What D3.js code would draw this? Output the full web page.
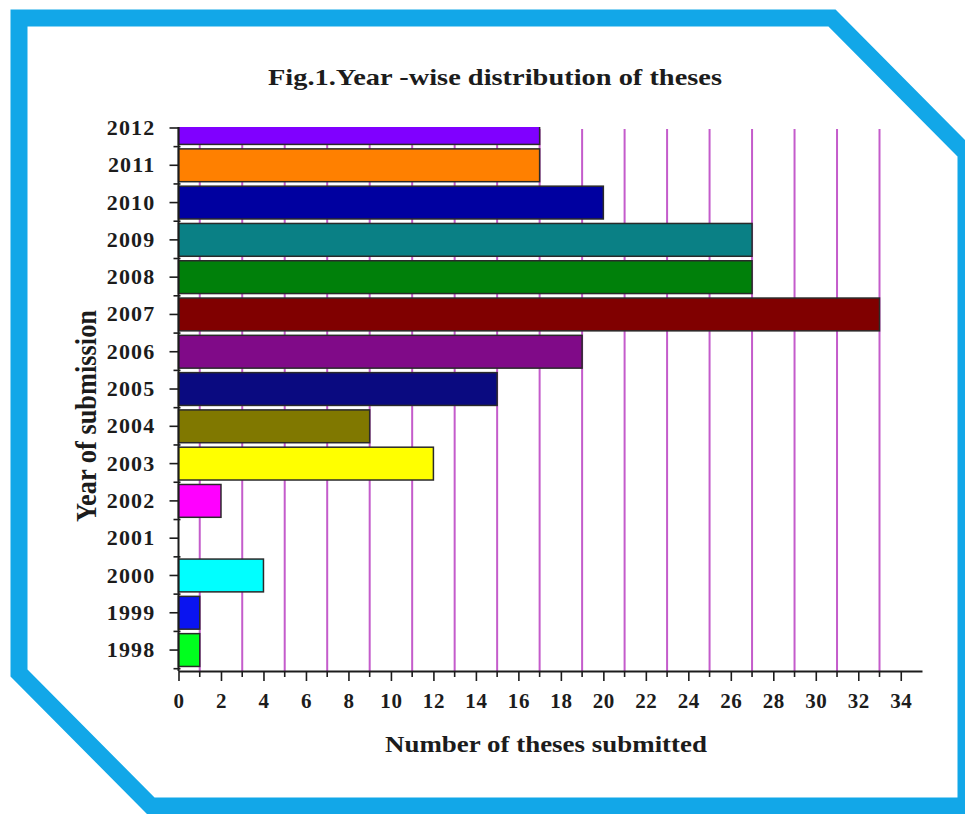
<!DOCTYPE html>
<html>
<head>
<meta charset="utf-8">
<script src="https://cdn.jsdelivr.net/npm/d3@7/dist/d3.min.js"></script>
<style>
  html, body { margin: 0; padding: 0; background: #ffffff; }
  svg { display: block; }
  text { font-family: "Liberation Serif", "Times New Roman", serif; font-weight: bold; fill: #1c1c1c; }
</style>
</head>
<body>
<svg id="chart" width="965" height="814"></svg>
<script>
// Year of submission (bottom to top) and number of theses submitted per year
const years = ["1998", "1999", "2000", "2001", "2002", "2003", "2004", "2005",
               "2006", "2007", "2008", "2009", "2010", "2011", "2012"];
const theses = [1, 1, 4, 0, 2, 12, 9, 15, 19, 33, 27, 27, 20, 17, 17];
const barColors = ["#00ff1e", "#0a14f0", "#00ffff", "#ffffff", "#ff00ff", "#ffff00",
                   "#807800", "#0a0a80", "#800a88", "#800000", "#00800a", "#0a8085",
                   "#0000a0", "#ff8000", "#8000ff"];
const xTickValues = [0, 2, 4, 6, 8, 10, 12, 14, 16, 18, 20, 22, 24, 26, 28, 30, 32, 34];
const gridValues = [1, 3, 5, 7, 9, 11, 13, 15, 17, 19, 21, 23, 25, 27, 29, 31, 33];

const titleText = "Fig.1.Year -wise distribution of theses";
const xTitleText = "Number of theses submitted";
const yTitleText = "Year of submission";

const rows = years.map((y, i) => ({ year: y, value: theses[i], color: barColors[i] }));

const svg = d3.select("#chart");

// plot frame
const plotLeft = 178.5, plotRight = 922, plotTop = 127, axisY = 671;

const x = d3.scaleLinear().domain([0, 35]).range([plotLeft, plotRight]);
const y = d3.scaleBand()
  .domain(years.slice().reverse())
  .range([109.35, 668.7])
  .paddingInner(0.12)
  .paddingOuter(0.06);

// outer frame with cut corners
const framePts = [[19, 18], [832, 18], [966, 153], [966, 806], [151, 806], [19, 673]];
svg.append("path")
  .attr("d", d3.line()(framePts) + "Z")
  .attr("fill", "#ffffff")
  .attr("stroke", "#12a7e8")
  .attr("stroke-width", 17)
  .attr("stroke-linejoin", "miter");

// title
svg.append("text")
  .attr("x", 495).attr("y", 85)
  .attr("text-anchor", "middle")
  .attr("font-size", 23)
  .attr("textLength", 454)
  .attr("lengthAdjust", "spacingAndGlyphs")
  .text(titleText);

// vertical grid lines at odd values, behind the bars
svg.append("g")
  .selectAll("line")
  .data(gridValues)
  .join("line")
  .attr("x1", d => x(d)).attr("x2", d => x(d))
  .attr("y1", plotTop + 2).attr("y2", axisY)
  .attr("stroke", "#c45ccb")
  .attr("stroke-width", 2);

// bars, clipped to the plot frame
svg.append("clipPath").attr("id", "plotClip")
  .append("rect")
  .attr("x", plotLeft - 2).attr("y", plotTop)
  .attr("width", plotRight - plotLeft + 4).attr("height", axisY - plotTop);

svg.append("g")
  .attr("clip-path", "url(#plotClip)")
  .selectAll("rect")
  .data(rows)
  .join("rect")
  .attr("x", x(0))
  .attr("y", d => y(d.year))
  .attr("width", d => x(d.value) - x(0))
  .attr("height", y.bandwidth())
  .attr("fill", d => d.color)
  .attr("stroke", d => d.value > 0 ? "#2a2a2a" : "none")
  .attr("stroke-width", 1.5);

// y axis: labels at band centres
const yAxis = svg.append("g")
  .attr("transform", `translate(${plotLeft},0)`)
  .call(d3.axisLeft(y).tickSize(9).tickPadding(14));
yAxis.select(".domain").remove();
yAxis.selectAll(".tick line").attr("stroke", "#1c1c1c").attr("stroke-width", 1.6);
yAxis.selectAll(".tick text")
  .attr("font-size", 22)
  .attr("letter-spacing", "1.2px")
  .attr("font-family", "'Liberation Serif', 'Times New Roman', serif")
  .attr("font-weight", "bold")
  .attr("fill", "#1c1c1c");

// y axis: small ticks at band boundaries
const bounds = d3.range(years.length + 1)
  .map(i => y.range()[0] + i * y.step())
  .filter(v => v > plotTop + 5);
svg.append("g")
  .selectAll("line")
  .data(bounds)
  .join("line")
  .attr("x1", plotLeft - 5).attr("x2", plotLeft + 2)
  .attr("y1", d => d).attr("y2", d => d)
  .attr("stroke", "#1c1c1c").attr("stroke-width", 1.6);

svg.append("line")
  .attr("x1", plotLeft).attr("x2", plotLeft)
  .attr("y1", plotTop).attr("y2", axisY)
  .attr("stroke", "#1c1c1c").attr("stroke-width", 2);

// x axis
const xAxis = svg.append("g")
  .attr("transform", `translate(0,${axisY})`)
  .call(d3.axisBottom(x).tickValues(xTickValues).tickSize(10).tickPadding(12).tickSizeOuter(0));
xAxis.select(".domain").attr("stroke", "#1c1c1c").attr("stroke-width", 2);
xAxis.selectAll(".tick line").attr("stroke", "#1c1c1c").attr("stroke-width", 1.6);
xAxis.selectAll(".tick text")
  .attr("font-size", 21)
  .attr("letter-spacing", "0.6px")
  .attr("font-family", "'Liberation Serif', 'Times New Roman', serif")
  .attr("font-weight", "bold")
  .attr("fill", "#1c1c1c");

// x axis minor ticks at odd values
svg.append("g")
  .selectAll("line")
  .data(gridValues)
  .join("line")
  .attr("x1", d => x(d)).attr("x2", d => x(d))
  .attr("y1", axisY).attr("y2", axisY + 6)
  .attr("stroke", "#1c1c1c").attr("stroke-width", 1.6);

// axis titles
svg.append("text")
  .attr("x", 546).attr("y", 752)
  .attr("text-anchor", "middle")
  .attr("font-size", 23)
  .attr("textLength", 322)
  .attr("lengthAdjust", "spacingAndGlyphs")
  .text(xTitleText);

svg.append("text")
  .attr("transform", "translate(96,416) rotate(-90)")
  .attr("text-anchor", "middle")
  .attr("font-size", 29)
  .attr("textLength", 212)
  .attr("lengthAdjust", "spacingAndGlyphs")
  .text(yTitleText);
</script>
</body>
</html>
